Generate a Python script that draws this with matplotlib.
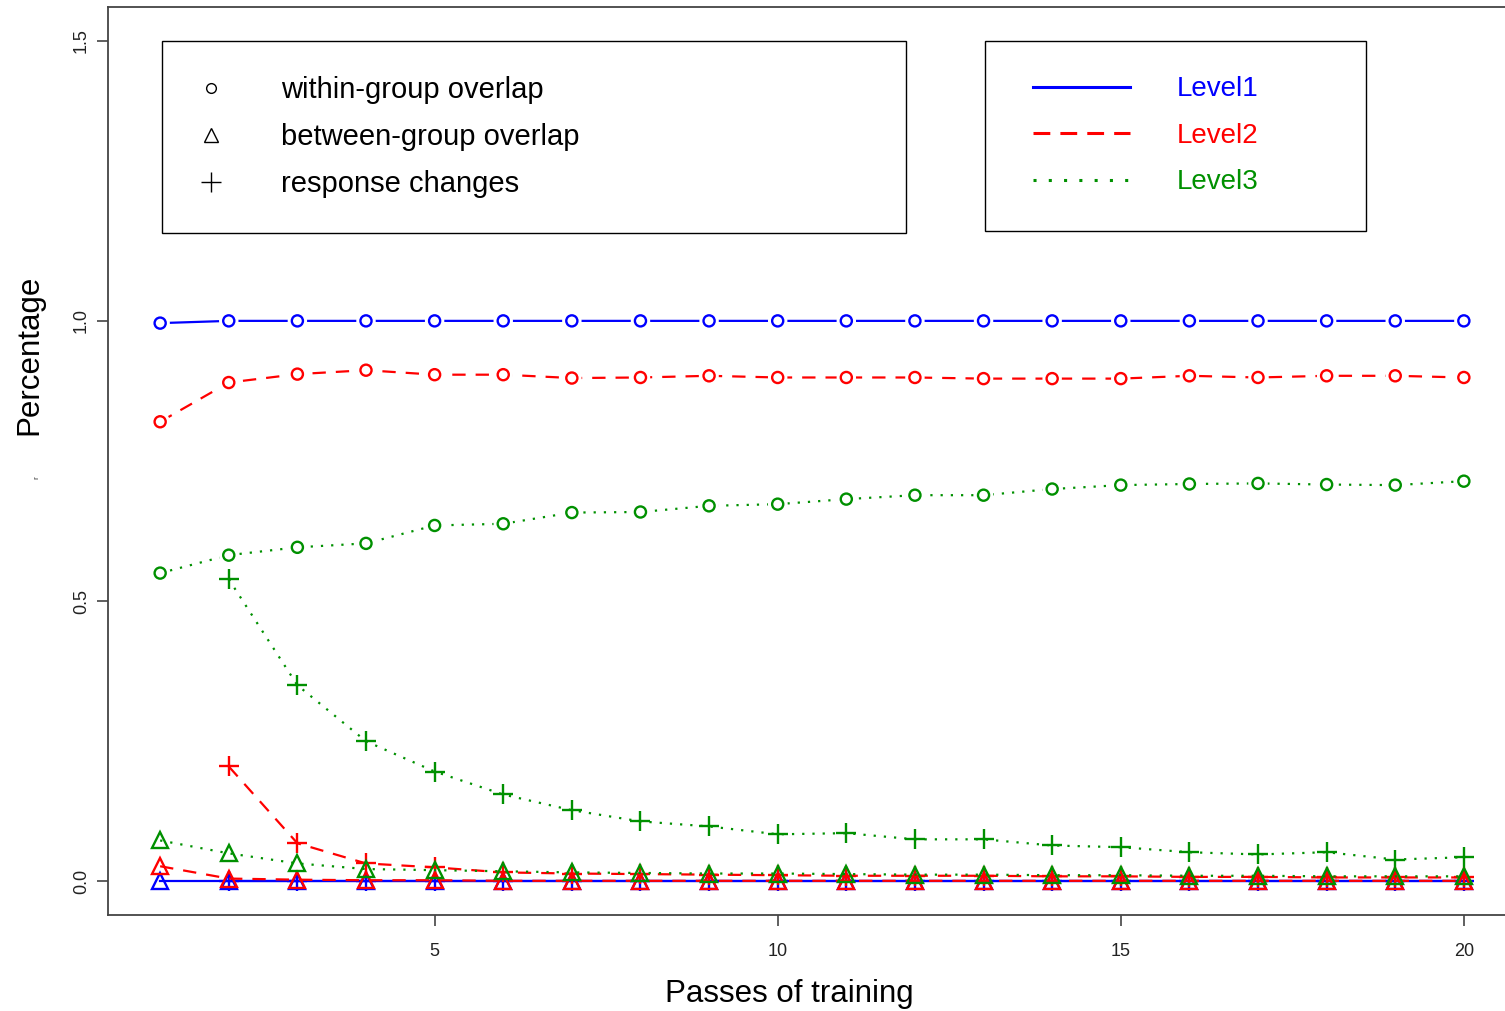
import matplotlib.pyplot as plt
import matplotlib.patheffects as pe
from matplotlib.lines import Line2D
from matplotlib.legend_handler import HandlerLine2D

plt.rcParams['font.family'] = ['Liberation Sans', 'DejaVu Sans']

passes = list(range(1, 21))
passes_resp = list(range(2, 21))

# Level 1
l1_within = [0.996] + [1.0] * 19
l1_between = [0.0] * 20
l1_response = [0.0] * 19

# Level 2
l2_within = [0.820, 0.890, 0.905, 0.912, 0.904, 0.904, 0.898, 0.899, 0.902, 0.899,
             0.899, 0.899, 0.897, 0.897, 0.897, 0.902, 0.899, 0.902, 0.902, 0.899]
l2_between = [0.027, 0.005, 0.003, 0.002, 0.002, 0.001, 0.001, 0.001, 0.001, 0.001,
              0.001, 0.001, 0.001, 0.001, 0.001, 0.001, 0.001, 0.001, 0.001, 0.001]
l2_response = [0.205, 0.068, 0.032, 0.025, 0.016, 0.014, 0.013, 0.012, 0.011, 0.010,
               0.010, 0.010, 0.009, 0.009, 0.008, 0.008, 0.007, 0.007, 0.007]

# Level 3
l3_within = [0.550, 0.582, 0.596, 0.603, 0.635, 0.638, 0.658, 0.659, 0.670, 0.673,
             0.682, 0.689, 0.689, 0.700, 0.707, 0.709, 0.710, 0.708, 0.707, 0.714]
l3_between = [0.073, 0.050, 0.032, 0.022, 0.020, 0.018, 0.016, 0.015, 0.014, 0.014,
              0.013, 0.012, 0.012, 0.011, 0.011, 0.010, 0.010, 0.009, 0.009, 0.009]
l3_response = [0.539, 0.350, 0.250, 0.196, 0.155, 0.127, 0.107, 0.098, 0.084, 0.086,
               0.075, 0.075, 0.064, 0.061, 0.052, 0.048, 0.052, 0.039, 0.043]

level_names = ['Level1', 'Level2', 'Level3']
level_colors = ['#0000FF', '#FF0000', '#009000']
level_dashes = [None, (6.0, 4.5), (1.0, 3.6)]
legend_dashes = [None, (5.5, 3.3), (1.0, 4.0)]

levels = [
    (l1_within, l1_between, l1_response),
    (l2_within, l2_between, l2_response),
    (l3_within, l3_between, l3_response),
]

fig = plt.figure(figsize=(15.05, 10.11), dpi=100)
ax = fig.add_axes([108 / 1505, 96 / 1011, 1408 / 1505, 908 / 1011])

# white ring around the open circles so the joining line stops short of them
halo = [pe.Stroke(linewidth=6, foreground='white'), pe.Normal()]

for i, ((within, between, response), color, dash) in enumerate(
        zip(levels, level_colors, level_dashes)):
    kw = dict(color=color, lw=1.6, markerfacecolor='none', markeredgecolor=color,
              markeredgewidth=1.7)
    if dash is not None:
        kw['dashes'] = dash
    z = 2 + i
    ax.plot(passes, within, zorder=z, **kw)
    ax.plot(passes, within, ls='none', marker='o', markersize=8, color=color,
            markerfacecolor='white', markeredgewidth=1.7, path_effects=halo,
            zorder=z + 0.5)
    ax.plot(passes, between, marker='^', markersize=11, zorder=z, **kw)
    ax.plot(passes_resp, response, marker='+', markersize=14, zorder=z, **kw)

ax.set_xlim(0.24, 20.76)
ax.set_ylim(-0.06, 1.56)
ax.set_xticks([5, 10, 15, 20])
ax.set_yticks([0.0, 0.5, 1.0, 1.5])
ax.set_yticklabels(['0.0', '0.5', '1.0', '1.5'], rotation=90, va='center')
ax.tick_params(length=8, width=1.2, color='#444444', labelsize=13,
               labelcolor='#222222')
ax.tick_params(axis='x', pad=12)
ax.tick_params(axis='y', pad=5)
for side in ['left', 'bottom', 'top']:
    ax.spines[side].set_color('#444444')
    ax.spines[side].set_linewidth(1.3)
ax.spines['right'].set_visible(False)

ax.set_xlabel('Passes of training', fontsize=22.5)
ax.xaxis.set_label_coords(0.484, -0.071)
ax.set_ylabel('Percentage', fontsize=22.5)
ax.yaxis.set_label_coords(-0.0455, 0.617)

fig.text(37 / 1505, 1 - 478 / 1011, 'r', rotation=90, fontsize=6,
         ha='center', va='center', color='#333333')

# marker-type legend
marker_handles = [
    Line2D([], [], ls='none', marker='o', markersize=7, markerfacecolor='none',
           markeredgecolor='black', markeredgewidth=1.0),
    Line2D([], [], ls='none', marker='^', markersize=10, markerfacecolor='none',
           markeredgecolor='black', markeredgewidth=1.0),
    Line2D([], [], ls='none', marker='+', markersize=14, markeredgecolor='black',
           markeredgewidth=1.0),
]
marker_labels = ['within-group overlap', 'between-group overlap', 'response changes']
leg1 = ax.legend(marker_handles, marker_labels, loc='upper left',
                 bbox_to_anchor=(162 / 1505, 1 - 228 / 1011, 744 / 1505, 187 / 1011),
                 bbox_transform=fig.transFigure, mode='expand', fontsize=21,
                 fancybox=False, edgecolor='black', framealpha=1,
                 borderpad=1.2, labelspacing=0.65, handlelength=0.96,
                 handletextpad=1.92, borderaxespad=0)
leg1.get_frame().set_linewidth(1.0)
leg1.set_zorder(10)
ax.add_artist(leg1)

# line-type legend
line_handles = []
for color, dash in zip(level_colors, legend_dashes):
    kw = dict(color=color, lw=2.2)
    if dash is not None:
        kw['dashes'] = dash
    line_handles.append(Line2D([], [], **kw))
leg2 = ax.legend(line_handles, level_names, loc='upper left',
                 bbox_to_anchor=(985 / 1505, 1 - 228 / 1011, 381 / 1505, 187 / 1011),
                 bbox_transform=fig.transFigure, mode='expand', fontsize=20,
                 fancybox=False, edgecolor='black', framealpha=1,
                 borderpad=1.27, labelspacing=0.74, handlelength=3.94,
                 handletextpad=1.69, borderaxespad=0,
                 handler_map={Line2D: HandlerLine2D(xpad=0.45)})
leg2.get_frame().set_linewidth(1.0)
leg2.set_zorder(10)
for text, color in zip(leg2.get_texts(), level_colors):
    text.set_color(color)

fig.savefig('out.png', dpi=100, facecolor='white')
